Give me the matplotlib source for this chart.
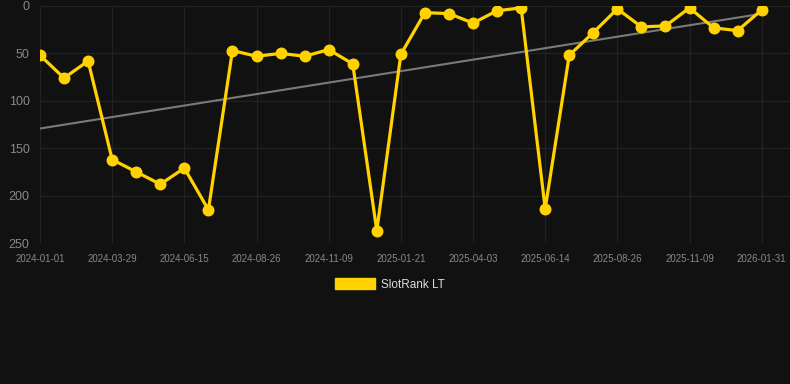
import matplotlib
matplotlib.use("Agg")
import matplotlib.pyplot as plt
from matplotlib.patches import Patch
import numpy as np

labels = ["2024-01-01", "2024-03-29", "2024-06-15", "2024-08-26", "2024-11-09",
          "2025-01-21", "2025-04-03", "2025-06-14", "2025-08-26", "2025-11-09", "2026-01-31"]
rank = [52, 76, 58, 162, 175, 188, 171, 215, 47, 53, 50, 53, 46, 61, 237, 51,
        7, 8, 18, 5, 2, 214, 52, 28, 3, 22, 21, 2, 23, 26, 4]
series_name = "SlotRank LT"

plt.rcParams['font.family'] = ['Liberation Sans', 'DejaVu Sans']

bg = "#111111"
gold = "#FFD200"
fig = plt.figure(figsize=(7.9, 3.84), dpi=100, facecolor=bg)
ax = fig.add_axes([40/790, 1-243/384, 750/790, 237/384], facecolor=bg)

x = np.arange(len(rank))
coef = np.polyfit(x, rank, 1)
ax.plot(x, np.polyval(coef, x), color="#7a7a7a", lw=1.5, zorder=2)
ax.plot(x, rank, color=gold, lw=2.3, marker="o", markersize=7.6,
        solid_joinstyle="miter", zorder=3)

ax.set_ylim(250, 0)
ax.set_xlim(0, (790-40)/((761.7-40)/30))
ax.set_yticks([0, 50, 100, 150, 200, 250])
tick_pos = x[::3]
ax.set_xticks(tick_pos)
ax.set_xticklabels(labels)
ax.grid(True, color="#222222", lw=0.9)
for s in ax.spines.values():
    s.set_visible(False)
ax.tick_params(axis="y", colors="#888888", labelsize=9, length=0, pad=7.5)
ax.tick_params(axis="x", colors="#888888", labelsize=7, length=0, pad=8)
ax.set_axisbelow(True)

leg = fig.legend(handles=[Patch(color=gold, label=series_name)],
                 loc="center", bbox_to_anchor=(390/790, 1-284.5/384),
                 frameon=False, handlelength=3.4, handleheight=0.95,
                 fontsize=8.5, labelcolor="#dddddd", handletextpad=0.5)

fig.savefig("out.png", dpi=100, facecolor=bg)
